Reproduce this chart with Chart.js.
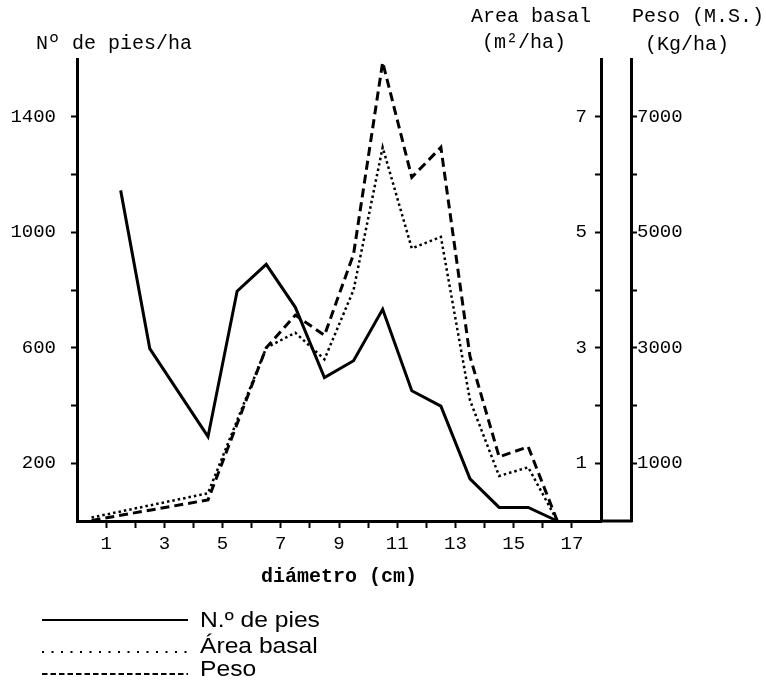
<!DOCTYPE html>
<html><head><meta charset="utf-8">
<script src="https://cdn.jsdelivr.net/npm/chart.js@4"></script>
<style>html,body{margin:0;padding:0;background:#fff;}#wrap{width:766px;height:681px;position:relative;}</style>
</head><body><div id="wrap"><canvas id="c" width="766" height="681"></canvas></div>
<script>
// ---- data ----
const diamPies = [1.5, 2.5, 4.5, 5.5, 6.5, 7.5, 8.5, 9.5, 10.5, 11.5, 12.5, 13.5, 14.5, 15.5, 16.5];
const piesHa = [1145, 597, 292, 796, 889, 740, 497, 555, 733, 451, 398, 146, 47, 47, 0];
const diamAreaPeso = [0.5, 4.5, 6.5, 7.5, 8.5, 9.5, 10.5, 11.5, 12.5, 13.5, 14.5, 15.5, 16.5];
const areaBasal = [0.06, 0.48, 3.0, 3.26, 2.8, 4.0, 6.47, 4.72, 4.92, 2.09, 0.78, 0.93, 0];
const pesoMS = [10, 365, 3000, 3565, 3215, 4620, 7945, 5950, 6470, 2850, 1112, 1285, 0];
const xTickLabels = [1, 3, 5, 7, 9, 11, 13, 15, 17];
const piesTickLabels = [200, 600, 1000, 1400];
const areaTickLabels = [1, 3, 5, 7];
const pesoTickLabels = [1000, 3000, 5000, 7000];
const seriesNames = ['N.º de pies', 'Área basal', 'Peso'];

const MONO = '"Liberation Mono", "DejaVu Sans Mono", monospace';
const tickFont = {family: MONO, size: 19};
const hideEnds = max => c => (c.tick && (c.tick.value === 0 || c.tick.value === max)) ? 'rgba(0,0,0,0)' : '#000';
const pts = (xs, ys) => xs.map((x, i) => ({x: x, y: ys[i]}));

const legendStyles = [
  {dash: [], width: 2},
  {dash: [2, 7.5], width: 2},
  {dash: [5.5, 3], width: 2}
];

const extras = {
  id: 'extras',
  afterDraw(chart) {
    const ctx = chart.ctx;
    const sa = chart.scales.area, sp = chart.scales.peso, sy = chart.scales.y;
    const ca = chart.chartArea;
    ctx.save();
    // x-axis line continuing under the two right axes
    ctx.strokeStyle = '#000'; ctx.lineWidth = 3; ctx.setLineDash([]);
    ctx.beginPath(); ctx.moveTo(sa.left, ca.bottom); ctx.lineTo(sp.left + 1.5, ca.bottom); ctx.stroke();
    // axis titles
    ctx.fillStyle = '#000';
    ctx.font = '20px ' + MONO;
    ctx.textBaseline = 'middle';
    ctx.textAlign = 'left';
    ctx.fillText('Nº de pies/ha', sy.right - 41, 44);
    ctx.textAlign = 'right';
    ctx.fillText('Area basal', sa.left - 10, 17);
    ctx.fillText('(m²/ha)', sa.left - 35, 43);
    ctx.textAlign = 'left';
    ctx.fillText('Peso (M.S.)', sp.left + 1, 17);
    ctx.fillText('(Kg/ha)', sp.left + 14, 45);
    // legend
    const rows = [{line: 620, base: 627}, {line: 652, base: 653}, {line: 674, base: 676}];
    chart.data.datasets.forEach((ds, i) => {
      const st = legendStyles[i];
      ctx.strokeStyle = '#000'; ctx.lineWidth = st.width; ctx.setLineDash(st.dash);
      ctx.beginPath(); ctx.moveTo(42, rows[i].line); ctx.lineTo(188, rows[i].line); ctx.stroke();
      ctx.setLineDash([]);
      ctx.save();
      ctx.translate(200, rows[i].base);
      ctx.scale(1.12, 1);
      ctx.font = '22px "Liberation Sans", Arial, sans-serif';
      ctx.textBaseline = 'alphabetic'; ctx.textAlign = 'left';
      ctx.fillText(ds.label, 0, 0);
      ctx.restore();
    });
    ctx.restore();
  }
};

new Chart(document.getElementById('c'), {
  type: 'line',
  data: {
    datasets: [
      {label: seriesNames[0], data: pts(diamPies, piesHa), yAxisID: 'y', borderColor: '#000', borderWidth: 3,
       pointRadius: 0, tension: 0, fill: false, clip: false, borderJoinStyle: 'miter'},
      {label: seriesNames[1], data: pts(diamAreaPeso, areaBasal), yAxisID: 'area', borderColor: '#000', borderWidth: 2.5,
       borderDash: [2.5, 3], pointRadius: 0, tension: 0, fill: false, clip: false},
      {label: seriesNames[2], data: pts(diamAreaPeso, pesoMS), yAxisID: 'peso', borderColor: '#000', borderWidth: 3,
       borderDash: [9, 5], pointRadius: 0, tension: 0, fill: false, clip: false}
    ]
  },
  options: {
    responsive: false,
    animation: false,
    devicePixelRatio: 1,
    layout: {padding: {top: 59, bottom: 90, left: 0, right: 0}},
    plugins: {legend: {display: false}, tooltip: {enabled: false}},
    scales: {
      x: {
        type: 'linear', position: 'bottom', min: 0, max: 18,
        ticks: {stepSize: 1, autoSkip: false, maxRotation: 0, font: tickFont, color: '#000', padding: 5,
          callback: v => xTickLabels.includes(v) ? String(v) : ''},
        grid: {drawOnChartArea: false, drawTicks: true, tickLength: 7, tickWidth: 2, tickColor: hideEnds(18)},
        border: {display: true, color: '#000', width: 3},
        title: {display: true, text: 'diámetro (cm)', color: '#000',
          font: {family: MONO, size: 20, weight: 'bold'}, padding: {top: 0, bottom: 2}},
        afterFit: s => { s.height = 70; }
      },
      y: {
        type: 'linear', position: 'left', min: 0, max: 1600,
        ticks: {stepSize: 200, font: tickFont, color: '#000', padding: 15,
          callback: v => piesTickLabels.includes(v) ? String(v) : ''},
        grid: {drawOnChartArea: false, drawTicks: true, tickLength: 6, tickWidth: 2, tickColor: hideEnds(1600)},
        border: {display: true, color: '#000', width: 3},
        afterFit: s => { s.width = 77; }
      },
      area: {
        type: 'linear', position: 'right', weight: 1, min: 0, max: 8,
        ticks: {stepSize: 1, mirror: true, padding: -14, font: tickFont, color: '#000',
          callback: v => areaTickLabels.includes(v) ? String(v) : ''},
        grid: {drawOnChartArea: false, drawTicks: true, tickLength: -6, tickWidth: 2, tickColor: hideEnds(8)},
        border: {display: true, color: '#000', width: 3},
        afterFit: s => { s.width = 30; }
      },
      peso: {
        type: 'linear', position: 'right', weight: 2, min: 0, max: 8000,
        ticks: {stepSize: 1000, padding: 0, font: tickFont, color: '#000',
          callback: v => pesoTickLabels.includes(v) ? String(v) : ''},
        grid: {drawOnChartArea: false, drawTicks: true, tickLength: 6, tickWidth: 2, tickColor: hideEnds(8000)},
        border: {display: true, color: '#000', width: 3},
        afterFit: s => { s.width = 135; }
      }
    }
  },
  plugins: [extras]
});
</script>
</body></html>
